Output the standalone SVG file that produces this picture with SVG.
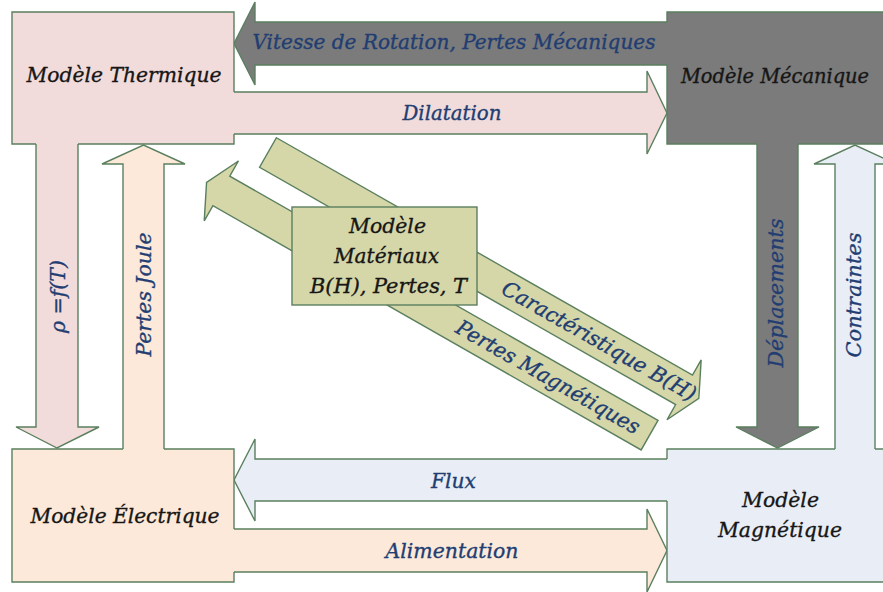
<svg xmlns="http://www.w3.org/2000/svg" width="883" height="592" viewBox="0 0 883 592">
<style>
.ol{fill:none;stroke:#5a7f5e;stroke-width:1.4;stroke-linejoin:miter}
.ar{stroke:#5a7f5e;stroke-width:1.4;stroke-linejoin:miter}
.th{fill:#f2dcdb}
.me{fill:#7b7b7b}
.el{fill:#fde9d9}
.ma{fill:#e9eef6}
.mt{fill:#d6d7a8}
.nt{font-family:"DejaVu Serif","Liberation Serif",serif;font-style:italic;font-size:21px;fill:#161616;stroke:#161616;stroke-width:0.35;text-anchor:middle}
.lb{font-family:"DejaVu Serif","Liberation Serif",serif;font-style:italic;font-size:21px;fill:#213d72;stroke:#213d72;stroke-width:0.35;text-anchor:middle}
</style>
<rect width="883" height="592" fill="#ffffff"/>
<g id="connectors">
  <path class="ar th" d="M200,92 H647 V71 L667,113 L647,154 V134 H200 Z"/>
  <path class="ar th" d="M36,120 V427 H16 L57,448 L99,427 H78 V120 Z"/>
  <path class="ar me" d="M700,22 H255 V2 L234,43.5 L255,85 V65 H700 Z"/>
  <path class="ar me" d="M757,120 V427 H736 L777.5,448 L819,427 H798 V120 Z"/>
  <path class="ar el" d="M123,470 V164 H102 L143.5,145 L185,164 H164 V470 Z"/>
  <path class="ar el" d="M200,529 H647 V509 L667,550.5 L647,592 V572 H200 Z"/>
  <path class="ar ma" d="M700,459 H255 V439 L234,480 L255,521 V501 H700 Z"/>
  <path class="ar ma" d="M835,470 V164 H814 L855,145 L896,164 H875 V470 Z"/>
  <g transform="translate(268,152.5) rotate(29.7)">
    <path class="ar mt" d="M0,-17 H479 V-34.5 L496,0 L479,34.5 V17 H0 Z"/>
    <path class="ar mt" d="M471.5,39.5 H-21.5 V22 L-38.5,56.5 L-21.5,91 V73.5 H471.5 Z"/>
    <text class="lb" x="381" y="7" textLength="220" lengthAdjust="spacingAndGlyphs">Caractéristique B(H)</text>
    <text class="lb" x="354.5" y="63.5" textLength="208" lengthAdjust="spacingAndGlyphs">Pertes Magnétiques</text>
  </g>
  <text class="lb" x="454" y="49" textLength="403" lengthAdjust="spacingAndGlyphs">Vitesse de Rotation, Pertes Mécaniques</text>
  <text class="lb" x="452" y="120" textLength="99" lengthAdjust="spacingAndGlyphs">Dilatation</text>
  <text class="lb" x="453.5" y="488" textLength="45" lengthAdjust="spacingAndGlyphs">Flux</text>
  <text class="lb" x="452" y="558" textLength="133" lengthAdjust="spacingAndGlyphs">Alimentation</text>
  <text class="lb" transform="translate(65,296.5) rotate(-90)" x="0" y="0" textLength="73" lengthAdjust="spacingAndGlyphs">ρ =f(T)</text>
  <text class="lb" transform="translate(150.5,294.5) rotate(-90)" x="0" y="0" textLength="124" lengthAdjust="spacingAndGlyphs">Pertes Joule</text>
  <text class="lb" transform="translate(783,293) rotate(-90)" x="0" y="0" textLength="149" lengthAdjust="spacingAndGlyphs">Déplacements</text>
  <text class="lb" transform="translate(861,295) rotate(-90)" x="0" y="0" textLength="125" lengthAdjust="spacingAndGlyphs">Contraintes</text>
</g>
<g id="thermique">
  <rect class="th" x="12" y="12" width="222" height="132"/>
  <path class="ol" d="M234,92 V12 H12 V144 H36 M78,144 H234 V134"/>
  <text class="nt" x="124" y="82" textLength="195" lengthAdjust="spacingAndGlyphs">Modèle Thermique</text>
</g>
<g id="mecanique">
  <rect class="me" x="667" y="12" width="216" height="132"/>
  <path class="ol" d="M667,22 V12 H883 M883,144 H798 M757,144 H667 V65"/>
  <text class="nt" x="775" y="83" style="font-size:19.5px" textLength="188" lengthAdjust="spacingAndGlyphs">Modèle Mécanique</text>
</g>
<g id="electrique">
  <rect class="el" x="12" y="449" width="222" height="133"/>
  <path class="ol" d="M123,449 H12 V582 H234 V572 M234,529 V449 H164"/>
  <text class="nt" x="125" y="523" textLength="189" lengthAdjust="spacingAndGlyphs">Modèle Électrique</text>
</g>
<g id="magnetique">
  <rect class="ma" x="667" y="449" width="216" height="133"/>
  <path class="ol" d="M667,459 V449 H835 M875,449 H883 M883,582 H667 V501"/>
  <text class="nt" x="780.5" y="507" textLength="77" lengthAdjust="spacingAndGlyphs">Modèle</text>
  <text class="nt" x="780" y="537" textLength="124" lengthAdjust="spacingAndGlyphs">Magnétique</text>
</g>
<g id="materiaux">
  <rect class="mt" x="292" y="207" width="185" height="98" stroke="#5a7f5e" stroke-width="1.4"/>
  <text class="nt" x="387.5" y="233" textLength="77" lengthAdjust="spacingAndGlyphs">Modèle</text>
  <text class="nt" x="386.5" y="263" textLength="105" lengthAdjust="spacingAndGlyphs">Matériaux</text>
  <text class="nt" x="388.5" y="293" textLength="157" lengthAdjust="spacingAndGlyphs">B(H), Pertes, T</text>
</g>
</svg>
